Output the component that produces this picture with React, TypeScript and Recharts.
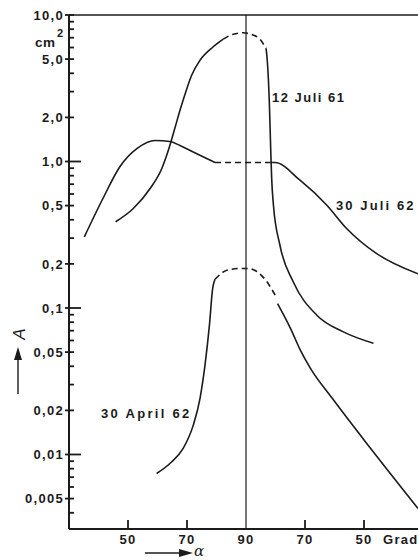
import React from "react";
import { ComposedChart, Line, XAxis, YAxis, ReferenceLine } from "recharts";

const INK = "#1b1b1b";
const FONT = "'Liberation Sans', Arial, sans-serif";

// angle axis runs 50 -> 90 -> 50; the right half is stored as 180 - alpha
const X_TICKS = [50, 70, 90, 110, 130];
const X_LABELS = ["50", "70", "90", "70", "50"];

const Y_MAJOR = [10, 5, 2, 1, 0.5, 0.2, 0.1, 0.05, 0.02, 0.01, 0.005];
const Y_LABELS = ["10,0", "5,0", "2,0", "1,0", "0,5", "0,2", "0,1", "0,05", "0,02", "0,01", "0,005"];
const Y_MINOR = [9, 8, 7, 6, 4, 3, 0.9, 0.8, 0.7, 0.6, 0.4, 0.3, 0.09, 0.08, 0.07, 0.06, 0.04, 0.03,
  0.009, 0.008, 0.007, 0.006, 0.004];
const Y_LONG = [1, 0.1, 0.01];

// 30 Juli 62
const JULI62_L_ANGLE = [35.2, 41.5, 47.3, 53.1, 59.2, 64.2, 67.6, 73.5, 79.5];
const JULI62_L_A = [0.306, 0.559, 0.924, 1.227, 1.391, 1.37, 1.286, 1.125, 0.984];
const JULI62_D_ANGLE = [79.5, 98.2];
const JULI62_D_A = [0.984, 0.984];
const JULI62_R_ANGLE = [98.2, 99.8, 108.3, 117.4, 124.1, 134.3, 148.3];
const JULI62_R_A = [0.984, 0.984, 0.745, 0.503, 0.349, 0.235, 0.171];

// 12 Juli 61
const JULI61_L_ANGLE = [45.8, 51.8, 57.5, 61.5, 64.0, 66.0, 67.8, 69.5, 71.5, 74.4, 78.9, 82.3];
const JULI61_L_A = [0.388, 0.478, 0.654, 0.9, 1.25, 1.72, 2.3, 2.95, 3.85, 4.91, 6.07, 6.84];
const JULI61_D_ANGLE = [82.3, 85.7, 89.1, 91.9, 94.7, 96.8];
const JULI61_D_A = [6.84, 7.4, 7.56, 7.36, 6.84, 5.91];
const JULI61_R_ANGLE = [96.8, 97.2, 97.9, 98.4, 98.7, 99.3, 101.5, 106.0, 114.0, 123.0, 133.2];
const JULI61_R_A = [5.91, 4.91, 2.56, 1.16, 0.766, 0.503, 0.268, 0.151, 0.0893, 0.0687, 0.0574];

// 30 April 62
const APRIL62_L_ANGLE = [59.7, 64.2, 68.7, 72.1, 74.4, 76.1, 77.6, 78.7, 79.5];
const APRIL62_L_A = [0.00742, 0.00868, 0.011, 0.0158, 0.0241, 0.0407, 0.0763, 0.136, 0.157];
const APRIL62_D_ANGLE = [79.5, 83.5, 88.0, 90.8, 93.7, 97.1, 100.2];
const APRIL62_D_A = [0.157, 0.181, 0.186, 0.186, 0.177, 0.151, 0.119];
const APRIL62_R_ANGLE = [100.7, 105.1, 108.5, 111.9, 119.3, 132.0, 148.3];
const APRIL62_R_A = [0.107, 0.0724, 0.0512, 0.0386, 0.0241, 0.01116, 0.00428];

const rows = (angle: number[], a: number[]) => angle.map((x, i) => ({ angle: x, A: a[i] }));

const SEGMENTS = [
  { key: "j62l", data: rows(JULI62_L_ANGLE, JULI62_L_A), dashed: false },
  { key: "j62d", data: rows(JULI62_D_ANGLE, JULI62_D_A), dashed: true },
  { key: "j62r", data: rows(JULI62_R_ANGLE, JULI62_R_A), dashed: false },
  { key: "j61l", data: rows(JULI61_L_ANGLE, JULI61_L_A), dashed: false },
  { key: "j61d", data: rows(JULI61_D_ANGLE, JULI61_D_A), dashed: true },
  { key: "j61r", data: rows(JULI61_R_ANGLE, JULI61_R_A), dashed: false },
  { key: "a62l", data: rows(APRIL62_L_ANGLE, APRIL62_L_A), dashed: false },
  { key: "a62d", data: rows(APRIL62_D_ANGLE, APRIL62_D_A), dashed: true },
  { key: "a62r", data: rows(APRIL62_R_ANGLE, APRIL62_R_A), dashed: false },
];

// plot box: 349 x 514 px
const X_DOMAIN = [30, 148.3];
const Y_DOMAIN = [0.0031, 10];
const DEG_PER_PX = (X_DOMAIN[1] - X_DOMAIN[0]) / 349;
const DEC_PER_PX = Math.log10(Y_DOMAIN[1] / Y_DOMAIN[0]) / 514;

// inward tick marks drawn through the chart's own scales
const yTickSegs = [...Y_MAJOR, ...Y_MINOR].map((v) => {
  const out = Y_MAJOR.includes(v) ? 4 : 0;
  const inn = Y_LONG.includes(v) ? 12 : 5;
  return [{ x: X_DOMAIN[0] - out * DEG_PER_PX, y: v }, { x: X_DOMAIN[0] + inn * DEG_PER_PX, y: v }];
});
const xTickSegs = X_TICKS.filter((t) => t !== 90).map((t) => [
  { x: t, y: Y_DOMAIN[0] },
  { x: t, y: Y_DOMAIN[0] * Math.pow(10, 9 * DEC_PER_PX) },
]);

const TXT = { fontFamily: FONT, fontSize: 13, fontWeight: 600, fill: INK, letterSpacing: 1.3 };

function YTick(props: any) {
  const i = Y_MAJOR.indexOf(Number(props.payload.value));
  if (i < 0) return <g />;
  return (
    <text x={Number(props.x) - 5} y={Number(props.y)} dy="0.36em" textAnchor="end" style={TXT}>
      {Y_LABELS[i]}
    </text>
  );
}

function XTick(props: any) {
  const i = X_TICKS.indexOf(Number(props.payload.value));
  return (
    <text x={Number(props.x)} y={Number(props.y) + 15} textAnchor="middle" style={TXT}>{X_LABELS[i]}</text>
  );
}

export default function App() {
  return (
    <div style={{ position: "absolute", left: 0, top: 0, width: 418, height: 560, background: "#fff", overflow: "hidden" }}>
      <ComposedChart width={418} height={560} margin={{ top: 15, right: 0, bottom: 0, left: 0 }}>
        <XAxis
          type="number" dataKey="angle" domain={X_DOMAIN} ticks={X_TICKS} interval={0}
          allowDataOverflow height={31} tickSize={0} tickMargin={0} tickLine={false}
          axisLine={{ stroke: INK, strokeWidth: 2 }} tick={(p: any) => <XTick {...p} />}
        />
        <YAxis
          type="number" scale="log" domain={Y_DOMAIN} ticks={[...Y_MAJOR, ...Y_MINOR]} interval={0}
          allowDataOverflow width={69} tickSize={0} tickMargin={0} tickLine={false}
          axisLine={{ stroke: INK, strokeWidth: 2 }} tick={(p: any) => <YTick {...p} />}
        />
        <ReferenceLine y={10} stroke={INK} strokeWidth={1.6} />
        <ReferenceLine x={90} stroke={INK} strokeWidth={1.2} />
        {yTickSegs.map((seg, i) => (
          <ReferenceLine key={"yt" + i} segment={seg} ifOverflow="visible" stroke={INK} strokeWidth={1.8} />
        ))}
        {xTickSegs.map((seg, i) => (
          <ReferenceLine key={"xt" + i} segment={seg} ifOverflow="visible" stroke={INK} strokeWidth={1.8} />
        ))}
        {SEGMENTS.map((s) => (
          <Line
            key={s.key} data={s.data} dataKey="A" type="monotone" stroke={INK} strokeWidth={1.6}
            strokeDasharray={s.dashed ? "6 4" : undefined} dot={false} activeDot={false}
            isAnimationActive={false} legendType="none"
          />
        ))}
      </ComposedChart>
      <svg width={418} height={560} style={{ position: "absolute", left: 0, top: 0, pointerEvents: "none" }}>
        <text x={35} y={47} style={{ ...TXT, fontSize: 13.5, letterSpacing: 0.5 }}>cm</text>
        <text x={57} y={37} style={{ ...TXT, fontSize: 11 }}>2</text>
        <text x={272} y={102} style={{ ...TXT, letterSpacing: 1.5 }}>12 Juli 61</text>
        <text x={336} y={210} style={{ ...TXT, letterSpacing: 2.1 }}>30 Juli 62</text>
        <text x={101} y={418} style={{ ...TXT, letterSpacing: 2.3 }}>30 April 62</text>
        <text x={383} y={544} style={TXT}>Grad</text>
        <line x1={145} x2={182} y1={553} y2={553} stroke={INK} strokeWidth={1.4} />
        <polygon points="179,549 193,553 179,557" fill={INK} />
        <text x={194} y={556} style={{ fontFamily: "'DejaVu Serif', serif", fontStyle: "italic", fontSize: 15, fill: INK }}>α</text>
        <line x1={18} x2={18} y1={394} y2={358} stroke={INK} strokeWidth={1.4} />
        <polygon points="14,360 18,347 22,360" fill={INK} />
        <text x={25} y={334} transform="rotate(-90 25 334)" textAnchor="middle"
          style={{ fontFamily: FONT, fontStyle: "italic", fontSize: 17, fill: INK }}>A</text>
      </svg>
    </div>
  );
}
